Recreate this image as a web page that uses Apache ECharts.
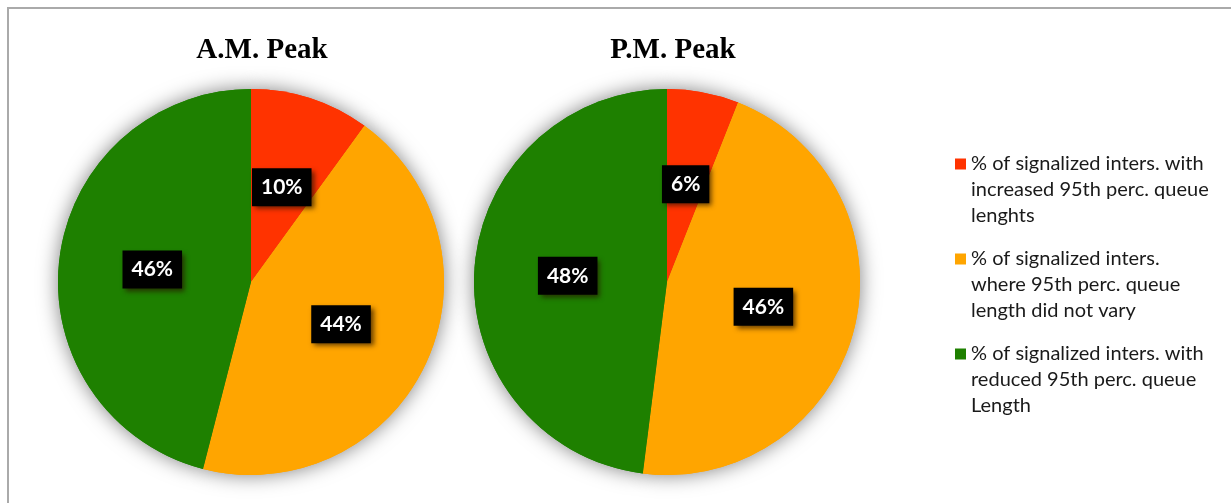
<!DOCTYPE html>
<html>
<head>
<meta charset="utf-8">
<script src="https://cdn.jsdelivr.net/npm/echarts@6/dist/echarts.min.js"></script>
<style>
    html, body { margin: 0; padding: 0; background: #fff; }
    #frame {
        position: absolute; left: 7px; top: 7px; right: 0; bottom: 0;
        border-top: 2px solid #aaaaaa; border-left: 2px solid #aaaaaa;
    }
    #main { position: absolute; left: 0; top: 0; width: 1231px; height: 503px; }
</style>
</head>
<body>
<div id="frame"></div>
<div id="main"></div>
<script>
// categories (legend text)
var categories = [
    '% of signalized inters. with\nincreased 95th perc. queue\nlenghts',
    '% of signalized inters.\nwhere 95th perc. queue\nlength did not vary',
    '% of signalized inters. with\nreduced 95th perc. queue\nLength'
];
var colors = ['#ff3300', '#ffa500', '#1e8000'];

// values (%)
var amPeak = [10, 44, 46];
var pmPeak = [6, 46, 48];

var titles = ['A.M. Peak', 'P.M. Peak'];

function toData(vals) {
    return vals.map(function (v, i) {
        return { name: categories[i], value: v, itemStyle: { color: colors[i] } };
    });
}

// 饼图
function pieSeries(vals, center) {
    return [
        {
            // shadow underlay
            type: 'pie',
            center: center,
            radius: 193,
            silent: true,
            z: 1,
            label: { show: false },
            labelLine: { show: false },
            itemStyle: { shadowBlur: 20, shadowColor: 'rgba(0,0,0,0.5)' },
            data: toData(vals)
        },
        {
            type: 'pie',
            center: center,
            radius: 193,
            z: 2,
            startAngle: 90,
            clockwise: true,
            label: {
                show: true,
                position: 'inside',
                formatter: '{c}%',
                color: '#fff',
                fontFamily: 'Lato',
                fontWeight: 'bold',
                fontSize: 21,
                lineHeight: 24,
                backgroundColor: '#000',
                padding: [8, 9, 6, 9],
                shadowColor: 'rgba(40,20,0,0.7)',
                shadowBlur: 5,
                shadowOffsetX: 3,
                shadowOffsetY: 3
            },
            labelLine: { show: false },
            emphasis: { scale: false },
            data: toData(vals)
        }
    ];
}

var myChart = echarts.init(document.getElementById('main'), null, { renderer: 'canvas' });

var option = {
    animation: false,
    title: [
        {
            text: titles[0], left: 257, top: 31, textAlign: 'center',
            textStyle: { fontFamily: 'Liberation Serif', fontWeight: 'bold', fontSize: 29, color: '#000' }
        },
        {
            text: titles[1], left: 668, top: 31, textAlign: 'center',
            textStyle: { fontFamily: 'Liberation Serif', fontWeight: 'bold', fontSize: 29, color: '#000' }
        }
    ],
    legend: {
        orient: 'vertical',
        left: 950,
        top: 94,
        icon: 'rect',
        itemWidth: 11,
        itemHeight: 11,
        itemGap: -35,
        data: categories,
        selectedMode: false,
        // two blank lines first so the marker sits beside the first text line
        formatter: function (name) { return '\n\n' + name; },
        textStyle: {
            fontFamily: 'Lato',
            fontSize: 20,
            lineHeight: 26,
            color: '#1a1a1a'
        }
    },
    series: pieSeries(amPeak, [251, 282]).concat(pieSeries(pmPeak, [667, 282]))
};

myChart.setOption(option);
window.addEventListener('resize', myChart.resize);
</script>
</body>
</html>
